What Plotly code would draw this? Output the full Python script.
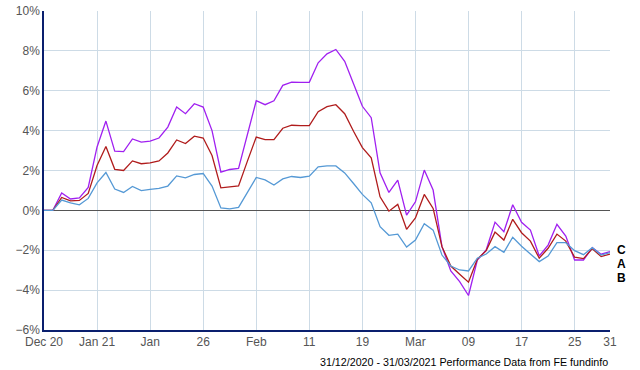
import plotly.graph_objects as go

tick_idx = [0, 6, 12, 18, 24, 30, 36, 42, 48, 54, 60, 64]
tick_labels = ["Dec 20", "Jan 21", "Jan", "26", "Feb", "11", "19", "Mar", "09", "17", "25", "31"]

series_c = [0, 0, 0.87, 0.57, 0.63, 1.15, 3.18, 4.48, 2.97, 2.95, 3.58, 3.42, 3.47, 3.63, 4.18,
            5.18, 4.85, 5.35, 5.18, 4.0, 1.92, 2.05, 2.1, 3.77, 5.5, 5.3, 5.5, 6.27, 6.43, 6.42,
            6.42, 7.4, 7.85, 8.07, 7.48, 6.35, 5.22, 4.65, 1.88, 0.9, 1.52, -0.24, 0.43, 2.02,
            1.02, -1.82, -3.04, -3.57, -4.27, -2.49, -1.99, -0.59, -1.07, 0.28, -0.6, -0.99,
            -2.29, -1.74, -0.7, -1.29, -2.49, -2.49, -1.87, -2.2, -2.07]
series_b = [0, 0, 0.65, 0.48, 0.5, 0.85, 2.25, 3.2, 2.06, 2.0, 2.48, 2.34, 2.38, 2.48, 2.88,
            3.53, 3.35, 3.72, 3.63, 2.75, 1.13, 1.18, 1.23, 2.47, 3.68, 3.55, 3.55, 4.12, 4.27,
            4.25, 4.25, 4.95, 5.2, 5.3, 4.85, 3.97, 3.15, 2.64, 0.68, -0.04, 0.3, -0.95, -0.38,
            0.8, 0.1, -1.82, -2.79, -3.2, -3.6, -2.45, -2.02, -1.09, -1.49, -0.45, -1.12, -1.54,
            -2.4, -1.9, -1.19, -1.54, -2.35, -2.42, -1.92, -2.32, -2.19]
series_a = [0, 0, 0.52, 0.38, 0.28, 0.6, 1.38, 1.9, 1.07, 0.9, 1.2, 0.99, 1.05, 1.1, 1.22,
            1.73, 1.63, 1.8, 1.85, 1.22, 0.12, 0.08, 0.15, 0.93, 1.65, 1.53, 1.27, 1.58, 1.7,
            1.65, 1.72, 2.18, 2.23, 2.23, 1.88, 1.35, 0.8, 0.38, -0.82, -1.25, -1.19, -1.84,
            -1.49, -0.67, -0.99, -2.24, -2.79, -2.99, -3.04, -2.4, -2.19, -1.82, -2.1, -1.35,
            -1.8, -2.19, -2.57, -2.29, -1.62, -1.62, -2.02, -2.22, -1.87, -2.24, -2.12]

x = list(range(len(series_a)))

fig = go.Figure()
for name, ys, col in [("C", series_c, "#a020f0"), ("B", series_b, "#b01c1c"), ("A", series_a, "#5599d5")]:
    fig.add_trace(go.Scatter(x=x, y=ys, mode="lines", name=name,
                             line=dict(color=col, width=1.3), showlegend=False))

fig.update_layout(
    width=640, height=370,
    margin=dict(l=44, r=30, t=11, b=40, autoexpand=False),
    paper_bgcolor="white", plot_bgcolor="white",
    font=dict(family="Liberation Sans, Arial, sans-serif", size=12, color="#555555"),
    xaxis=dict(range=[0, 64], tickmode="array", tickvals=tick_idx, ticktext=tick_labels,
               showgrid=True, gridcolor="#cddbe6", gridwidth=1, zeroline=False,
               showline=True, linecolor="#0a1f6e", linewidth=1.5, ticks="", ticklen=0,
               automargin=False),
    yaxis=dict(range=[-6, 10], dtick=2, ticksuffix="%", showgrid=True, gridcolor="#cddbe6",
               gridwidth=1, zeroline=True, zerolinecolor="#555555", zerolinewidth=1,
               showline=True, linecolor="#0a1f6e", linewidth=1.5, ticks="", automargin=False),
)

for lab, py in [("C", 0.251), ("A", 0.207), ("B", 0.163)]:
    fig.add_annotation(text="<b>%s</b>" % lab, xref="paper", yref="paper", x=1, y=py,
                       xanchor="left", yanchor="middle", xshift=5, showarrow=False,
                       font=dict(size=12, color="black", family="Liberation Sans, Arial, sans-serif"))

fig.add_annotation(text="31/12/2020 - 31/03/2021 Performance Data from FE fundinfo",
                   xref="paper", yref="paper", x=1, y=0, xanchor="right", yanchor="top",
                   yshift=-24, showarrow=False,
                   font=dict(size=10.7, color="black", family="Liberation Sans, Arial, sans-serif"))

fig.write_html("out.html", config={"displayModeBar": False},
               post_script="document.body.style.margin='0';document.body.style.padding='0';")
